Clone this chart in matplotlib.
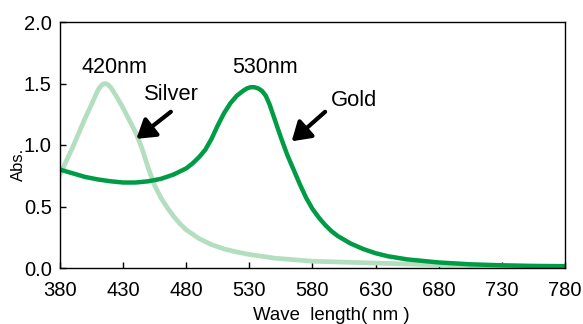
import matplotlib
matplotlib.use("Agg")
import matplotlib.pyplot as plt

plt.rcParams['font.family'] = ['Liberation Sans', 'DejaVu Sans']

# absorbance spectra
silver_wl = [380, 385, 390, 395, 400, 405, 408, 410, 412, 414, 416, 418, 420, 422, 425,
             430, 435, 440, 445, 450, 455, 460, 465, 470, 475, 480, 490, 500, 510, 520,
             530, 550, 580, 630, 680, 730, 780]
silver_abs = [0.76, 0.87, 0.98, 1.10, 1.22, 1.33, 1.40, 1.445, 1.475, 1.495, 1.50, 1.49,
              1.47, 1.44, 1.39, 1.30, 1.20, 1.10, 0.97, 0.81, 0.67, 0.57, 0.49, 0.42,
              0.36, 0.31, 0.24, 0.19, 0.155, 0.13, 0.11, 0.08, 0.055, 0.04, 0.025,
              0.015, 0.01]

gold_wl = [380, 390, 400, 410, 420, 430, 440, 450, 460, 470, 480, 485, 490, 495, 500,
           505, 510, 515, 520, 525, 528, 531, 534, 537, 540, 543, 546, 550, 555, 560,
           565, 570, 575, 580, 585, 590, 595, 600, 610, 620, 630, 640, 655, 680, 705,
           730, 755, 780]
gold_abs = [0.80, 0.77, 0.74, 0.72, 0.705, 0.695, 0.695, 0.705, 0.725, 0.76, 0.81, 0.85,
            0.90, 0.96, 1.05, 1.16, 1.26, 1.34, 1.40, 1.44, 1.46, 1.47, 1.47, 1.46,
            1.44, 1.40, 1.33, 1.21, 1.06, 0.92, 0.80, 0.68, 0.57, 0.48, 0.41, 0.35,
            0.30, 0.26, 0.20, 0.155, 0.12, 0.095, 0.07, 0.045, 0.03, 0.022, 0.017, 0.015]

x_ticks = [380, 430, 480, 530, 580, 630, 680, 730, 780]
y_ticks = [0.0, 0.5, 1.0, 1.5, 2.0]

fig = plt.figure(figsize=(5.83, 3.24), dpi=100)
ax = fig.add_axes([60 / 583, 56 / 324, 505 / 583, 246 / 324])

ax.plot(silver_wl, silver_abs, color='#b3dfc0', lw=3.4, solid_joinstyle='round')
ax.plot(gold_wl, gold_abs, color='#009b45', lw=3.2, solid_joinstyle='round')

ax.set_xlim(380, 780)
ax.set_ylim(0, 2.0)
ax.set_xticks(x_ticks)
ax.set_yticks(y_ticks)
ax.set_yticklabels([f"{v:.1f}" for v in y_ticks])
ax.tick_params(direction='in', length=4, width=1, labelsize=14.5)
ax.tick_params(axis='x', pad=9)
ax.tick_params(axis='y', pad=6)
for s in ax.spines.values():
    s.set_linewidth(1)

fig.text(18 / 583, 160 / 324, "Abs.", fontsize=12, rotation=90, ha='center', va='center')
fig.text(331 / 583, 8 / 324, "Wave  length( nm )", fontsize=13.4, ha='center', va='center')

ax.text(423, 1.63, "420nm", fontsize=15.5, ha='center', va='center')
ax.text(542, 1.63, "530nm", fontsize=15.5, ha='center', va='center')
ax.text(468, 1.41, "Silver", fontsize=15.8, ha='center', va='center')
ax.text(613, 1.36, "Gold", fontsize=15.8, ha='center', va='center')

arrow = dict(arrowstyle='-|>,head_length=0.55,head_width=0.35', lw=3, color='black',
             mutation_scale=20, shrinkA=0, shrinkB=0)
ax.annotate("", xy=(440.5, 1.05), xytext=(467.8, 1.27), arrowprops=arrow)
ax.annotate("", xy=(563.5, 1.03), xytext=(590, 1.27), arrowprops=arrow)

fig.savefig("out.png", dpi=100)
